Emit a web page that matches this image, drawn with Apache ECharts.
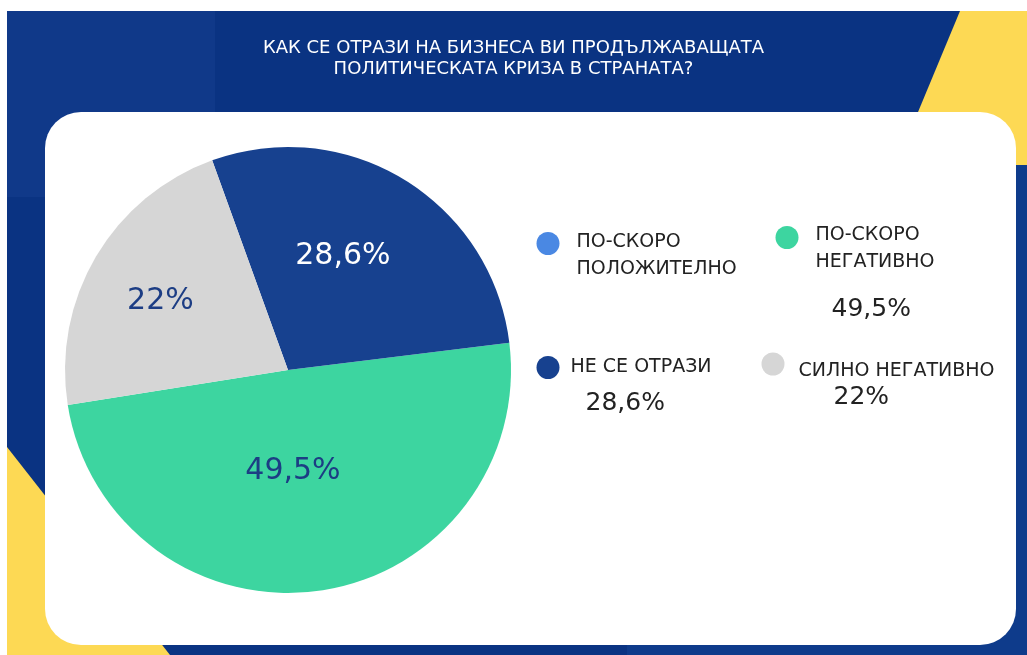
<!DOCTYPE html>
<html>
<head>
<meta charset="utf-8">
<script src="https://cdn.jsdelivr.net/npm/echarts@6/dist/echarts.min.js"></script>
<style>
	html, body { margin: 0; padding: 0; background: #fff; }
	#main { width: 1027px; height: 655px; }
</style>
</head>
<body>
<div id="main"></div>
<script>
// данни
var categories = ['ПО-СКОРО ПОЛОЖИТЕЛНО', 'ПО-СКОРО НЕГАТИВНО', 'НЕ СЕ ОТРАЗИ', 'СИЛНО НЕГАТИВНО'];
var values = [0, 49.5, 28.6, 22];
var titleLines = ['КАК СЕ ОТРАЗИ НА БИЗНЕСА ВИ ПРОДЪЛЖАВАЩАТА', 'ПОЛИТИЧЕСКАТА КРИЗА В СТРАНАТА?'];

var colors = ['#4a88e3', '#3dd5a0', '#17418f', '#d6d6d6'];
var labelColors = ['#1c3d84', '#1c3d84', '#ffffff', '#1c3d84'];
var FONT = 'DejaVu Sans';

// изместване на етикетите в кръга
var labelShift = [[0, 0], [-11, -12], [-5, -16], [-29, -11]];

// легенда: позиция, разстояния
var legendLayout = [
	{left: 536.5, top: 216, sp: 24, vh: 0, pl: 12, vpl: 0, wrap: true},
	{left: 775.5, top: 176, sp: 90, vh: 68, pl: 12, vpl: 28, wrap: true},
	{left: 536.5, top: 331, sp: 44, vh: 45, pl: 6, vpl: 21, wrap: false},
	{left: 761.5, top: 337.5, sp: 39, vh: 25, pl: 9, vpl: 44, wrap: false}
];

function fmt(v) {
	return String(v).replace('.', ',') + '%';
}

var dom = document.getElementById('main');
var myChart = echarts.init(dom);

var pieData = categories.map(function (name, i) {
	return {
		name: name,
		value: values[i],
		itemStyle: {color: colors[i]},
		label: {color: labelColors[i]}
	};
});

var legends = categories.map(function (name, i) {
	var l = legendLayout[i];
	return {
		data: [name],
		left: l.left,
		top: l.top,
		padding: 0,
		icon: 'circle',
		itemWidth: 23,
		itemHeight: 23,
		selectedMode: false,
		formatter: function (n) {
			var txt = l.wrap ? n.replace(' ', '\n') : n;
			var s = '{sp| }\n' + txt.split('\n').map(function (t) { return '{n|' + t + '}'; }).join('\n');
			if (values[i]) {
				s += '\n{v|' + fmt(values[i]) + '}';
			}
			return s;
		},
		textStyle: {
			rich: {
				sp: {fontSize: 1, lineHeight: l.sp},
				n: {fontFamily: FONT, fontSize: 19, lineHeight: 27, color: '#222', padding: [0, 0, 0, l.pl]},
				v: {fontFamily: FONT, fontSize: 25, lineHeight: l.vh, color: '#222', padding: [0, 0, 0, l.vpl]}
			}
		}
	};
});

var option = {
	backgroundColor: '#ffffff',
	animation: false,
	title: {
		text: titleLines.join('\n'),
		left: 'center',
		top: 38,
		padding: 0,
		z: 6,
		textStyle: {
			color: '#ffffff',
			fontFamily: FONT,
			fontSize: 18,
			fontWeight: 'normal',
			lineHeight: 21
		}
	},
	legend: legends,
	graphic: {
		elements: [
			{type: 'rect', z: -10, silent: true, shape: {x: 7, y: 11, width: 1020, height: 644}, style: {fill: '#0a3382'}},
			{type: 'rect', z: -9, silent: true, shape: {x: 7, y: 11, width: 208, height: 186}, style: {fill: '#103989'}},
			{type: 'rect', z: -9, silent: true, shape: {x: 627, y: 600, width: 400, height: 55}, style: {fill: '#0e3b8b'}},
			{type: 'rect', z: -9, silent: true, shape: {x: 1000, y: 165, width: 27, height: 490}, style: {fill: '#0e3b8b'}},
			{type: 'polygon', z: -8, silent: true, shape: {points: [[960, 11], [1027, 11], [1027, 165], [896, 165]]}, style: {fill: '#fdd954'}},
			{type: 'polygon', z: -8, silent: true, shape: {points: [[7, 447], [7, 655], [170, 655]]}, style: {fill: '#fdd954'}},
			{type: 'rect', z: -7, silent: true, shape: {x: 45, y: 112, width: 971, height: 533, r: 36}, style: {fill: '#ffffff'}}
		]
	},
	series: [
		{
			name: 'Отговори',
			type: 'pie',
			center: [288, 370],
			radius: 223,
			clockwise: false,
			startAngle: 189,
			avoidLabelOverlap: false,
			silent: true,
			itemStyle: {borderWidth: 0},
			label: {
				show: true,
				position: 'inside',
				fontFamily: FONT,
				fontSize: 30,
				formatter: function (p) {
					return p.value ? fmt(p.value) : '';
				}
			},
			labelLine: {show: false},
			labelLayout: function (params) {
				var o = labelShift[params.dataIndex];
				return {dx: o[0], dy: o[1]};
			},
			emphasis: {disabled: true},
			data: pieData
		}
	]
};

myChart.setOption(option);

window.onresize = function () {
	myChart.resize();
};
</script>
</body>
</html>
